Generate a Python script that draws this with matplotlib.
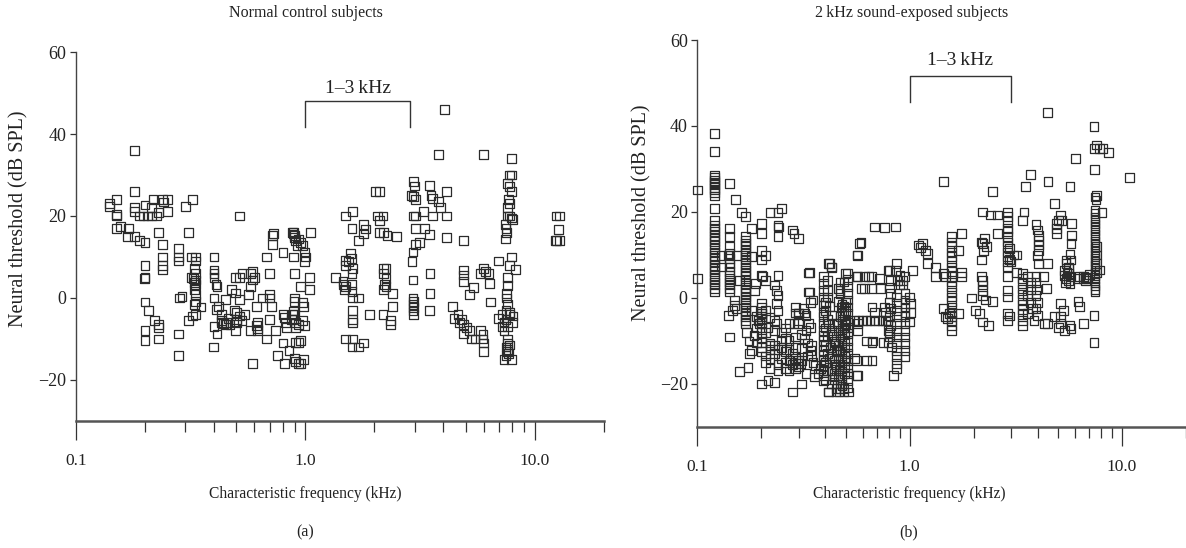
import matplotlib
matplotlib.use("Agg")
import matplotlib.pyplot as plt
from matplotlib.ticker import NullFormatter

plt.rcParams['font.family'] = ['Liberation Serif', 'DejaVu Serif']
plt.rcParams['axes.unicode_minus'] = True

# ---------------- Panel (a): normal control subjects (CF kHz, threshold dB SPL)
a_low = [(0.14,23),(0.14,22.4),(0.15,24),(0.15,20),(0.15,20.3),(0.15,17),(0.156,17.5),(0.17,17),(0.168,15),
         (0.18,36),(0.18,26),(0.18,22),(0.18,21),(0.18,15),(0.19,14),(0.20,13.6),
         (0.19,20),(0.197,20),(0.205,20),(0.213,20),(0.225,20),(0.20,22.7),(0.213,22),(0.217,24),(0.239,24),
         (0.25,24),(0.24,23.4),(0.25,21),(0.23,20.8),
         (0.20,8),(0.20,5),(0.199,4.8),(0.20,-1),(0.207,-3),(0.20,-8),(0.20,-10.4),(0.22,-5.5),(0.23,-6.4),
         (0.23,-7.2),(0.23,-10),(0.23,16),(0.239,13),(0.239,10),(0.239,8),(0.239,7),
         (0.281,12),(0.281,10),(0.281,9),(0.284,0),(0.29,0.4),(0.28,-8.8),(0.28,-14),
         (0.30,22.4),(0.322,24),(0.31,16),(0.31,-5.5),
         (0.32,10),(0.333,10),(0.333,9),(0.33,7.2),(0.333,6),(0.32,5),(0.333,4.4),(0.333,3.2),(0.33,2),
         (0.333,0.8),(0.333,-0.8),(0.328,-1.6),(0.333,-4),(0.322,-4.4),(0.351,-2.2),(0.325,4.8),(0.33,3.8),
         (0.40,10),(0.40,6.8),(0.40,6),(0.40,5),(0.408,3.2),(0.412,2.8),(0.40,0),(0.40,-7),(0.397,-12),
         (0.41,-2.8),(0.42,-2),(0.43,-4),(0.433,-5.6),(0.43,-6),(0.44,-6.2),(0.45,-6.4),(0.455,-6),
         (0.412,-8.8),(0.45,-0.4),(0.477,2),(0.496,1.2),(0.46,-5),(0.47,-6.5)]

a_mid = [(0.496,5),(0.516,5),(0.53,6),(0.49,-3),(0.50,-3.6),(0.516,-4.4),(0.50,-5.2),(0.50,-6),(0.53,-5.6),
         (0.496,-8),(0.516,20),(0.516,-0.4),(0.546,-4),
         (0.567,0.8),(0.575,2.8),(0.59,4.4),(0.60,5),(0.575,6),(0.59,6.4),(0.575,-8),(0.59,-16),
         (0.613,-2),(0.62,-6),(0.613,-6.8),(0.617,-7.6),(0.62,-8),(0.65,0),(0.675,-10),(0.68,10),(0.70,6),
         (0.70,0.8),(0.70,0),(0.71,-2),(0.70,-5.2),
         (0.72,13),(0.72,15.2),(0.725,15.8),(0.743,-8),(0.758,-14),(0.80,11),(0.80,-4),(0.81,-4.8),(0.82,-6),
         (0.83,-7.2),(0.80,-11),(0.81,-16),(0.85,-12.8),
         (0.88,16),(0.885,15.6),(0.89,16),(0.895,15.2),(0.90,14.8),(0.91,14),(0.935,14.4),(0.92,12.8),(0.95,13.6),
         (0.89,10),(0.90,6),(0.90,0),(0.90,-0.8),(0.89,-3.2),(0.90,-4),(0.89,-5.2),(0.905,-6),(0.88,-4),
         (0.87,-5.2),(0.91,-7.2),(0.937,-6.4),
         (0.91,-10.8),(0.937,-10.8),(0.955,-10.4),(0.90,-14.8),(0.91,-15.6),(0.937,-16),(0.955,-16),(0.985,-15),
         (0.955,2.8),(0.97,12.8),(0.99,11.2),(0.99,8.8),(1.0,10),(0.97,-1.2),(0.98,-2),(0.97,-5.6),(0.99,-6.8),
         (1.05,16),(1.04,5),(1.04,2)]

a_band = [(1.35,5),(1.46,4),(1.46,3.2),(1.48,2),(1.50,2.8),(1.50,20),(1.61,21),(1.50,9.2),(1.50,8),(1.54,8.8),
          (1.58,10.8),(1.59,9.6),(1.61,7.2),(1.6,6),(1.6,17),(1.6,3.2),(1.6,1.6),(1.61,0),(1.61,-3),(1.61,-5.2),
          (1.61,-6),(1.70,0),(1.50,-10),(1.61,-10),(1.60,-12),(1.70,-12),(1.80,-11),(1.70,14),(1.80,18),
          (1.83,16.8),(1.80,15.6),(1.91,-4),
          (2.03,26),(2.10,26),(2.06,20),(2.18,20),(2.10,18.8),(2.10,16),(2.2,16),(2.27,15.2),(2.5,15),
          (2.2,7.2),(2.25,7.2),(2.2,6),(2.25,4.8),(2.22,3.2),(2.2,2),(2.25,2.8),(2.18,-4),(2.36,-5.6),(2.4,-2),
          (2.36,-6.4),(2.4,1),
          (2.97,28.5),(3.0,27.3),(2.9,25),(2.97,24.8),(3.03,24),(2.97,20),(3.03,20),(3.03,17),(2.95,11.2),
          (2.92,8.8),(3.03,13),(3.15,13.6),(2.95,4.4),(2.95,0),(2.97,-0.8),(2.95,-1.6),(2.97,-2.4),(2.95,-3.2),
          (2.97,-4),(3.27,21),(3.3,17),(3.47,15.4),(3.47,27.4)]

a_high = [(3.53,25),(3.6,24.2),(3.6,20),(3.82,23.6),(3.89,22),(3.82,35),(4.04,46),(4.12,26),(4.12,20),(4.12,14.8),
          (3.5,6),(3.5,1),(3.47,-3),(4.37,-2),(4.45,-5),(4.63,-4),(4.7,-6),(4.8,-5.2),(4.9,-6.4),(4.91,14),
          (4.91,6.8),(4.91,5.6),(4.91,4),(5.2,0.8),(4.9,-8.8),(5.05,-7.2),(5.2,-8),(5.3,-10),(5.5,-10),(5.4,2.6),
          (5.83,6),(5.99,7.2),(6.1,6.4),(6.3,6),(6.35,3.6),(6.0,35),(5.83,-8),(5.95,-10),(5.99,-11),(5.99,-13),
          (5.95,-9),(6.42,-1),(6.94,9),
          (7.94,34),(7.79,30),(7.94,30),(7.64,28),(7.79,27.2),(7.94,26),(7.7,24),(7.79,23),(7.6,22),(7.64,20),
          (7.79,20),(8.0,19.2),(7.9,19.5),(7.45,18),(7.5,17),(7.55,16),(7.45,14.4),(7.94,10),(7.79,8),(8.25,7),
          (7.64,5),(7.64,3),(7.55,1),(7.55,0),(7.6,-1.5),(7.5,-3),(7.79,-3.5),(7.2,-4),(7.79,-4),(8.05,-4.4),
          (6.94,-5),(7.5,-5.2),(7.35,-6),(8.0,-6),(7.2,-7),(7.64,-7),(7.35,-8),(7.64,-10),(7.64,-11),(7.79,-11.5),
          (7.5,-12),(7.64,-13),(7.5,-14),(7.35,-15),(7.94,-15),(7.6,-12.5),(7.7,-13.5),
          (12.4,20),(12.8,20),(12.7,16.7),(12.3,14),(12.5,14),(12.8,14)]

# ---------------- Panel (b): 2 kHz sound-exposed subjects
b_col_cf = [0.12, 0.142, 0.168, 0.2, 0.393, 0.51, 0.48, 0.495, 0.87, 0.95, 1.57, 2.89, 3.4, 7.45]
b_col_db = [
    [38.3,34,28.6,28,27.4,26.8,26.3,25.7,25.1,24.5,23.7,20.8,18.1,16.9,16.2,15.4,14.6,13.8,13.1,12.3,11.5,
     10.7,9.9,9.2,8.4,7.6,6.8,6.1,5.3,4.5,3.7,3.0,2.2,1.4],
    [26.7,16.2,14.2,11.9,10.3,9.2,8,7.2,6.1,5.3,4.5,3.7,3.0,2.2,1.4,-9.1],
    [14.2,13.4,12.6,11.9,11.1,10.3,9.5,8.8,8,7.2,6.4,5.6,4.9,4.1,3.3,2.5,1.8,1,0.2,-0.5,-1.3,-2.1,-2.9,
     -3.7,-4.4,-5.2,-6],
    [-1.2,-2.3,-3.5,-4.7,-5.8,-7,-8.1,-9.3,-10.4,-11.6],
    [4.9,3.3,1.8,0.2,-1.7,-3.3,-4.4,-6,-7.5,-8.7,-9.9,-11,-12.2,-13.4,-14.5,-15.7,-16.9,-18.1,-19.3],
    [5.8,4.3,2.6,1,-0.5,-2.1,-3.7,-5.2,-6.8,-8.3,-9.9,-11.4,-13,-14.5,-16.1,-17.6,-19.2,-20.8],
    [-5,-6.5,-8,-9.5,-11,-12.5,-14,-15.5,-17,-18.5,-20],
    [-5.5,-7,-8.5,-10,-11.5,-13,-14.5,-16,-17.5],
    [0.2,-1.3,-2.9,-4.4,-6,-7.5,-9.1,-10.6,-12.2,-13.7,-15.3,-16.5],
    [1,-0.5,-2.1,-3.3,-4.4,-6,-7.5,-9.1,-10.6,-12.2,-13.7],
    [14.2,13,11.9,10.7,9.6,8.4,7.2,6.1,4.9,3.7,2.6,1.4,0.2,-0.9,-2.1,-3.3,-4.4,-5.2,-6.4,-7.5],
    [20,18.9,17.7,16.2,15.4,14.2,13,11.9,10.7,9.6,8.4,7.2,4.9,1.8,0.2,-3.7,-5.2],
    [5.6,4.5,3.3,2.1,0.9,-0.3,-1.5,-2.7,-3.9,-5.2,-6.4],
    [20.4,19.6,18.8,18.0,17.2,16.4,15.6,14.8,14.0,13.2,12.4,11.6,10.8,10.0,9.2,8.4,7.6,6.8,6.0,5.2,4.4,
     3.6,2.8,2.0,1.5],
]

b_low = [(0.1,25.1),(0.1,4.5),(0.13,9.9),(0.14,9.9),(0.153,9.9),(0.13,7.2),
         (0.151,22.9),(0.161,19.8),(0.168,18.9),(0.158,4),(0.15,-0.5),(0.153,-2.5),(0.14,-4),(0.146,-2.9),
         (0.15,-1.8),(0.18,16.2),(0.18,9.6),(0.176,-13),(0.18,-12.2),(0.158,-17.2),(0.173,-16.1),(0.186,1.8),
         (0.188,3.3),(0.19,-4.4),(0.193,-5.2),(0.196,-6),(0.2,-4.4),(0.2,-3.7),
         (0.2,17.3),(0.2,15),(0.2,11.1),(0.2,8.8),(0.21,9.9),(0.2,5.3),(0.202,4.9),(0.21,4.1),
         (0.2,-20),(0.215,-19.2),(0.23,-19.6),(0.22,19.8),(0.24,19.8),(0.25,20.8),(0.24,16.9),(0.242,16.5),
         (0.24,14.2),(0.24,5.3),(0.23,3),(0.235,1.8),(0.24,0.6),(0.235,-1.3),(0.24,-2.9),(0.23,-5.2),
         (0.235,-6),(0.23,-7.5),(0.28,15.8),(0.285,15),(0.3,13.8),(0.29,-2.1),(0.3,-3.7),(0.3,-5.2),
         (0.285,-6),(0.29,-9.1),(0.27,-9.9),(0.26,-9.5),(0.25,-9.9),
         (0.23,-13),(0.25,-14),(0.26,-15),(0.28,-15.5),(0.29,-16.5),(0.27,-14.5),(0.3,-16),(0.26,-12.5),
         (0.24,-15.5),(0.22,-14),(0.27,-17),(0.21,-8),(0.22,-10.5),(0.215,-6.8),
         (0.19,-7),(0.2,-12.5),(0.21,-13.5),(0.22,-11),(0.22,-12),(0.23,-11),(0.24,-12),(0.25,-11.5),
         (0.21,-15),(0.22,-16.5),(0.24,-17),(0.26,-16.5),(0.27,-12),(0.28,-13),(0.25,-8),(0.26,-7),(0.27,-6),
         (0.21,-3),(0.22,-4.5),(0.18,-3),(0.17,-8),(0.175,-10),(0.19,-10.5),(0.185,-8.7),
         (0.28,-21.9),(0.3,-14.5),(0.305,-15.3),(0.31,-14.5),(0.295,-15.3),(0.31,-20),(0.325,-17.6),
         (0.334,5.8),(0.334,1.4),(0.315,-2.5),(0.325,-4),(0.334,-6),(0.34,-6.8),(0.325,-7.5),(0.345,-11),
         (0.34,-12.2),(0.345,-13.4),(0.36,-15.7),(0.38,-16.5),(0.37,-17.6),(0.355,-18.4),
         (0.29,-3.5),(0.3,-3.5),(0.32,-3.5),(0.3,-6),(0.31,-8.5),(0.33,-10.5),(0.29,-11.5),(0.31,-11.8),
         (0.33,-13.5),(0.35,-15),(0.29,-14),(0.34,-1),(0.35,-0.5),(0.32,-9.5),(0.337,6),(0.337,1.4)]

b_mid = [(0.413,8),(0.43,7.1),(0.413,-6),(0.43,-7.5),(0.436,-9),(0.445,-10.5),(0.454,-12.2),(0.43,-13.5),
         (0.445,-15.5),(0.465,-16.9),(0.44,-18.4),(0.454,-20),(0.413,-21.9),(0.465,-21.9),(0.514,-21.9),
         (0.42,-14),(0.43,-17),(0.44,-19),(0.45,-21),(0.425,-11.5),(0.47,-19),(0.48,-20.5),(0.49,-21),
         (0.46,2.2),(0.47,1),(0.46,-0.9),(0.475,-2.1),(0.48,-3.3),(0.47,-4.4),
         (0.40,-1),(0.40,-3),(0.41,-5),(0.40,-7),(0.41,-9),(0.40,-11),(0.41,-13),(0.40,-15),(0.41,-17),
         (0.40,-19),(0.42,-2),(0.43,-4),(0.44,-6),(0.43,-8.5),(0.44,-10),(0.45,-12),(0.44,-14.5),(0.45,-16),
         (0.44,-17.5),(0.43,-20),(0.46,-6),(0.46,-7.5),(0.47,-9),(0.46,-11),(0.47,-12.5),(0.46,-14),
         (0.47,-15.5),(0.46,-18),(0.47,-21),(0.49,-2),(0.49,-4),(0.5,-6),(0.49,-7),(0.5,-3),(0.48,-1.5),
         (0.5,-1),(0.47,3.7),(0.5,5.7),(0.49,3.7),(0.47,1.8),(0.41,4.1),(0.41,1.8),(0.41,0.2),(0.42,8),(0.43,7.2),
         (0.55,-5.2),(0.575,-5.2),(0.6,-5.2),(0.625,-5.2),(0.65,-5.2),(0.68,-5.2),(0.71,-5.2),(0.74,-5.2),
         (0.77,-5.2),(0.57,9.9),(0.59,12.9),(0.57,4.9),(0.64,4.9),(0.57,-7.5),(0.57,-6),(0.55,-14.1),
         (0.56,-14.5),(0.57,-18.1),(0.61,2.2),(0.665,-2.1),(0.68,-3.3),(0.665,-10.3),(0.665,-14.5),(0.72,4.5),
         (0.73,2.2),(0.76,16.3),(0.86,16.5),(0.75,-10.3),(0.79,-10.3),(0.79,6.4),(0.76,-2.1),(0.77,-3.3),
         (0.79,-5.2),(0.79,-7.5),(0.8,-9),(0.84,-18),
         (0.565,4.9),(0.61,4.9),(0.66,4.9),(0.59,2.2),(0.66,2.2),(0.58,12.7),(0.565,10),(0.68,16.5),
         (0.625,-10),(0.67,-10),(0.625,-14.5),(0.56,-18),(0.415,-21.9),(0.45,-21.9),(0.49,-21.9),
         (0.8,6.4),(0.81,4),(0.8,2.5),(0.81,1),(0.8,-1),(0.81,-2.5),(0.8,-4),(0.81,-6.5),(0.8,-8),(0.82,-11.4),
         (0.87,8),(0.86,6.4),(0.9,5.3),(0.875,4.1),(0.9,3),(0.93,3),(0.93,4.1),(0.95,4.9),
         (1.0,0.2),(1.01,-1.3),(1.01,-3.3),(1.0,-5.6),(1.03,6.4)]

b_band = [(1.1,12.3),(1.12,11.7),(1.15,12.7),(1.19,11.1),(1.21,10.3),(1.21,8),(1.32,7.1),(1.32,4.9),(1.44,5.7),
          (1.48,4.9),(1.44,27),(1.44,-2.5),(1.48,-4.4),(1.5,-4.8),(1.54,-3.7),(1.69,-3.7),
          (1.69,11),(1.76,15),(1.76,6),(1.76,4.9),(1.95,0),(2.04,-2.9),(2.13,-3.7),(2.17,8.8),(2.17,13),
          (2.2,12.7),(2.25,13.8),(2.3,11.9),(2.22,11.1),(2.17,4.9),(2.2,4.1),(2.2,3),(2.21,1.8),(2.2,0.6),
          (2.28,-0.5),(2.2,20),(2.4,19.3),(2.6,19.3),(2.45,24.8),(2.2,-5.6),(2.35,-6.4),(2.45,-0.9),(2.6,15),
          (2.95,11.5),(2.95,9),(3.0,8.5),(2.95,-4.2),(3.1,10),(3.2,10),(3.18,6)]

b_high = [(3.45,20),(3.4,18.1),(3.52,26),(3.69,28.7),(3.93,17),(4.0,15.8),(4.05,14.6),(4.05,13.4),(4.05,12.3),
          (4.05,11.1),(4.0,9.9),(4.05,8),(3.93,5),(3.93,3.5),(3.95,2),(3.93,0.5),(4.0,-1),(3.93,-2.5),(4.0,-4),
          (3.6,5),(3.7,3.5),(3.7,2),(3.6,0.5),(3.7,-1),(3.8,-2.5),(3.6,-3.7),(3.85,-5.2),
          (4.27,4.9),(4.45,8),(4.4,2.2),(4.45,43.1),(4.48,27),(4.3,-6),(4.45,-6),(4.79,22),(4.93,17.3),
          (4.93,16.2),(4.93,15),(5.0,18.1),(5.14,19.3),(5.2,18.1),
          (4.8,-4.4),(5.0,-6.8),(5.14,-6),(5.14,-4.4),(5.3,-2.9),(5.14,-1.3),
          (5.35,6.4),(5.35,5.3),(5.45,8),(5.45,8.8),(5.58,7.1),(5.58,5.6),(5.69,4.9),(5.69,3.3),(5.58,4.1),
          (5.45,4.5),(5.5,6),(5.6,6.8),(5.4,3.5),
          (5.8,17.3),(5.8,14.6),(5.75,12.7),(5.69,10.2),(5.75,8.8),(5.69,26),(5.69,-6.4),(5.75,-7.1),(5.35,-7.5),
          (6.05,32.5),(6.2,-0.9),(6.31,-2),(6.31,4.9),(6.57,4.9),(6.7,4.1),(6.6,-6),
          (7.37,39.8),(7.4,34.8),(7.6,35.6),(7.85,34.8),(8.1,34.8),(8.6,33.9),(7.4,29.9),(7.45,23.5),(7.53,22.8),
          (7.6,23.9),(8.05,19.9),(10.8,28),(7.37,-4),(7.37,-10.3),
          (7.6,12),(7.6,10),(7.6,8),(7.6,6),(7.85,6.5),(6.7,4.8),(6.2,4.5),(6.6,4.5),(6.9,4.5),(7.0,5.5)]

major_ticks = [0.1, 1.0, 10.0]
major_labels = ['0.1', '1.0', '10.0']
minor_ticks = [0.2, 0.3, 0.4, 0.5, 0.6, 0.7, 0.8, 0.9, 2, 3, 4, 5, 6, 7, 8, 9, 20]
y_ticks = [-20, 0, 20, 40, 60]

fig = plt.figure(figsize=(11.86, 5.48), dpi=100)
axA = fig.add_axes([0.064, 0.232, 0.445, 0.673])
axB = fig.add_axes([0.588, 0.221, 0.412, 0.706])

def style(ax):
    ax.set_xscale('log')
    ax.set_xlim(0.1, 20)
    ax.set_ylim(-30, 60)
    for s in ('top', 'right'):
        ax.spines[s].set_visible(False)
    ax.spines['left'].set_color('#444444')
    ax.spines['left'].set_linewidth(1.0)
    ax.spines['bottom'].set_color('#555555')
    ax.spines['bottom'].set_linewidth(1.8)
    ax.set_xticks(major_ticks)
    ax.set_xticklabels(major_labels)
    ax.set_xticks(minor_ticks, minor=True)
    ax.xaxis.set_minor_formatter(NullFormatter())
    ax.tick_params(axis='x', which='major', length=14, width=0.9, color='#333333',
                   labelsize=12.5, pad=9, labelcolor='#222222')
    ax.tick_params(axis='x', which='minor', length=8, width=0.9, color='#333333')
    ax.set_yticks(y_ticks)
    ax.set_yticklabels([str(v).replace('-', '\u2212') for v in y_ticks])
    ax.tick_params(axis='y', length=4, width=0.9, color='#333333', labelsize=13,
                   labelcolor='#222222', pad=3)

def draw(ax, groups):
    xs, ys = [], []
    for g in groups:
        for f, d in g:
            xs.append(f); ys.append(d)
    ax.scatter(xs, ys, marker='s', s=40, facecolors='none', edgecolors='#2b2b2b',
               linewidths=0.9, zorder=3, clip_on=False)

style(axA)
style(axB)

draw(axA, [a_low, a_mid, a_band, a_high])
b_cols = [(cf, d) for cf, dl in zip(b_col_cf, b_col_db) for d in dl]
draw(axB, [b_cols, b_low, b_mid, b_band, b_high])

# 1-3 kHz brackets
axA.plot([1.0, 1.0, 2.85, 2.85], [41.8, 48, 48, 41.8], color='#333333', lw=1.0)
axA.text(1.69, 51.2, '1\u20133\u2009kHz', ha='center', va='center', fontsize=14, color='#222222')
axB.plot([1.0, 1.0, 3.0, 3.0], [45.6, 51.7, 51.7, 45.6], color='#333333', lw=1.0)
axB.text(1.73, 55.2, '1\u20133\u2009kHz', ha='center', va='center', fontsize=14, color='#222222')

# titles, axis labels, panel labels
fig.text(0.258, 0.977, 'Normal control subjects', ha='center', va='center', fontsize=11.5, color='#222222')
fig.text(0.769, 0.977, '2\u2009kHz sound-exposed subjects', ha='center', va='center', fontsize=11.5, color='#222222')
fig.text(0.257, 0.099, 'Characteristic frequency (kHz)', ha='center', va='center', fontsize=11.2, color='#222222')
fig.text(0.767, 0.099, 'Characteristic frequency (kHz)', ha='center', va='center', fontsize=11.2, color='#222222')
fig.text(0.257, 0.029, '(a)', ha='center', va='center', fontsize=11.5, color='#222222')
fig.text(0.766, 0.029, '(b)', ha='center', va='center', fontsize=11.5, color='#222222')
fig.text(0.016, 0.6, 'Neural threshold (dB SPL)', rotation=90, ha='center', va='center', fontsize=14.5, color='#222222')
fig.text(0.541, 0.611, 'Neural threshold (dB SPL)', rotation=90, ha='center', va='center', fontsize=14.5, color='#222222')

fig.savefig('out.png', dpi=100)
